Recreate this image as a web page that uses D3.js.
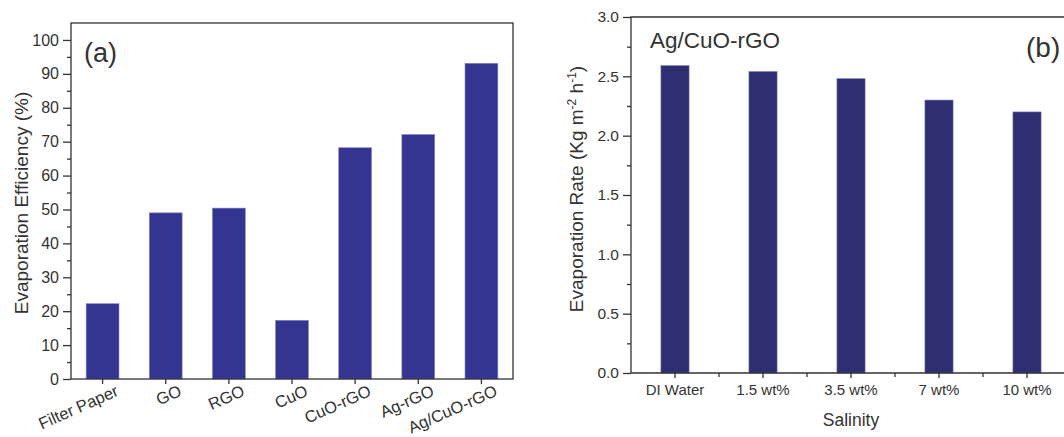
<!DOCTYPE html>
<html>
<head>
<meta charset="utf-8">
<script src="https://cdn.jsdelivr.net/npm/d3@7"></script>
<style>
  body { margin: 0; background: #fff; }
  text { font-family: "Liberation Sans", Arial, sans-serif; fill: #333; }
</style>
</head>
<body>
<div class="canvas"></div>
<script>
// panel (a) data
const materials = ['Filter Paper', 'GO', 'RGO', 'CuO', 'CuO-rGO', 'Ag-rGO', 'Ag/CuO-rGO'];
const efficiency = [22.2, 49.0, 50.4, 17.3, 68.2, 72.1, 93.1];
const effTicks = [0, 10, 20, 30, 40, 50, 60, 70, 80, 90, 100];

// panel (b) data
const salinity = ['DI Water', '1.5 wt%', '3.5 wt%', '7 wt%', '10 wt%'];
const rate = [2.59, 2.54, 2.48, 2.30, 2.20];
const rateTicks = [0, 0.5, 1.0, 1.5, 2.0, 2.5, 3.0];

const axisColor = '#333';

const svg = d3
  .select('.canvas')
  .append('svg')
  .attr('width', 1064)
  .attr('height', 437);

const styleAxis = g => {
  g.select('.domain').remove();
  g.selectAll('line').attr('stroke', axisColor).attr('stroke-width', 1.3);
};

// ---------- panel (a) ----------
const a = { left: 71, right: 513, top: 23, bottom: 379 };

const xa = d3.scaleBand().domain(materials).range([a.left, a.right]);
const ya = d3.scaleLinear().domain([0, 105]).range([a.bottom, a.top]);

const ga = svg.append('g');

ga.selectAll('rect.bar')
  .data(materials)
  .enter()
  .append('rect')
  .attr('class', 'bar')
  .attr('x', d => xa(d) + xa.bandwidth() * 0.24)
  .attr('width', xa.bandwidth() * 0.52)
  .attr('y', (d, i) => ya(efficiency[i]))
  .attr('height', (d, i) => ya(0) - ya(efficiency[i]))
  .attr('fill', '#343491')
  .attr('stroke', '#7f80c8')
  .attr('stroke-width', 0.6);

// minor y ticks
ga.append('g')
  .attr('transform', `translate(${a.left},0)`)
  .call(d3.axisLeft(ya).tickValues(d3.range(5, 105, 10)).tickSize(4).tickFormat(''))
  .call(styleAxis);

// major y ticks
const yAxisA = ga.append('g')
  .attr('transform', `translate(${a.left},0)`)
  .call(d3.axisLeft(ya).tickValues(effTicks).tickSize(8).tickPadding(4))
  .call(styleAxis);
yAxisA.selectAll('text').attr('font-size', 16).attr('fill', '#333');

// x ticks
ga.append('g')
  .attr('transform', `translate(0,${a.bottom})`)
  .call(d3.axisBottom(xa).tickSize(5).tickFormat(''))
  .call(styleAxis);

ga.selectAll('text.xlab')
  .data(materials)
  .enter()
  .append('text')
  .attr('class', 'xlab')
  .attr('text-anchor', 'end')
  .attr('font-size', 16.5)
  .attr('transform', d => `translate(${xa(d) + xa.bandwidth() / 2 + 17},${a.bottom + 16}) rotate(-24)`)
  .text(d => d);

// frame
ga.append('rect')
  .attr('x', a.left)
  .attr('y', a.top)
  .attr('width', a.right - a.left)
  .attr('height', a.bottom - a.top)
  .attr('fill', 'none')
  .attr('stroke', axisColor)
  .attr('stroke-width', 1.3);

ga.append('text')
  .attr('transform', `translate(28,${(a.top + a.bottom) / 2 + 2}) rotate(-90)`)
  .attr('text-anchor', 'middle')
  .attr('font-size', 19)
  .text('Evaporation Efficiency (%)');

ga.append('text')
  .attr('x', 84)
  .attr('y', 62)
  .attr('font-size', 27)
  .attr('fill', '#111')
  .text('(a)');

// ---------- panel (b) ----------
const b = { left: 631, right: 1071, top: 17, bottom: 373 };

const xb = d3.scaleBand().domain(salinity).range([b.left, b.right]);
const yb = d3.scaleLinear().domain([0, 3]).range([b.bottom, b.top]);

const gb = svg.append('g');

gb.selectAll('rect.bar')
  .data(salinity)
  .enter()
  .append('rect')
  .attr('class', 'bar')
  .attr('x', d => xb(d) + xb.bandwidth() * 0.34)
  .attr('width', xb.bandwidth() * 0.32)
  .attr('y', (d, i) => yb(rate[i]))
  .attr('height', (d, i) => yb(0) - yb(rate[i]))
  .attr('fill', '#2f2e72')
  .attr('stroke', '#7879b0')
  .attr('stroke-width', 0.6);

gb.append('g')
  .attr('transform', `translate(${b.left},0)`)
  .call(d3.axisLeft(yb).tickValues(d3.range(0.25, 3, 0.5)).tickSize(4).tickFormat(''))
  .call(styleAxis);

const yAxisB = gb.append('g')
  .attr('transform', `translate(${b.left},0)`)
  .call(d3.axisLeft(yb).tickValues(rateTicks).tickSize(8).tickPadding(4).tickFormat(d3.format('.1f')))
  .call(styleAxis);
yAxisB.selectAll('text').attr('font-size', 15.5).attr('fill', '#333');

// major x ticks at categories
const xAxisB = gb.append('g')
  .attr('transform', `translate(0,${b.bottom})`)
  .call(d3.axisBottom(xb).tickSize(5).tickPadding(6))
  .call(styleAxis);
xAxisB.selectAll('text').attr('font-size', 15).attr('fill', '#333');

// minor x ticks between categories
gb.append('g')
  .attr('transform', `translate(0,${b.bottom})`)
  .selectAll('line')
  .data(salinity)
  .enter()
  .append('line')
  .attr('x1', d => xb(d) + xb.bandwidth())
  .attr('x2', d => xb(d) + xb.bandwidth())
  .attr('y1', 0)
  .attr('y2', 4)
  .attr('stroke', axisColor)
  .attr('stroke-width', 1.3);

// frame (right side falls outside the picture)
gb.append('path')
  .attr('d', `M${b.right},${b.top}H${b.left}V${b.bottom}H${b.right}`)
  .attr('fill', 'none')
  .attr('stroke', axisColor)
  .attr('stroke-width', 1.3);

const yTitleB = gb.append('text')
  .attr('transform', `translate(583,${(b.top + b.bottom) / 2 - 6}) rotate(-90)`)
  .attr('text-anchor', 'middle')
  .attr('font-size', 19);
yTitleB.append('tspan').text('Evaporation Rate (Kg m');
yTitleB.append('tspan').attr('font-size', 12).attr('dy', -7).text('-2');
yTitleB.append('tspan').attr('dy', 7).text(' h');
yTitleB.append('tspan').attr('font-size', 12).attr('dy', -7).text('-1');
yTitleB.append('tspan').attr('dy', 7).text(')');

gb.append('text')
  .attr('x', (b.left + b.right) / 2)
  .attr('y', 426)
  .attr('text-anchor', 'middle')
  .attr('font-size', 17.5)
  .text('Salinity');

gb.append('text')
  .attr('x', 650)
  .attr('y', 48)
  .attr('font-size', 22.5)
  .attr('fill', '#222')
  .text('Ag/CuO-rGO');

gb.append('text')
  .attr('x', 1026)
  .attr('y', 57)
  .attr('font-size', 28)
  .attr('fill', '#111')
  .text('(b)');
</script>
</body>
</html>
